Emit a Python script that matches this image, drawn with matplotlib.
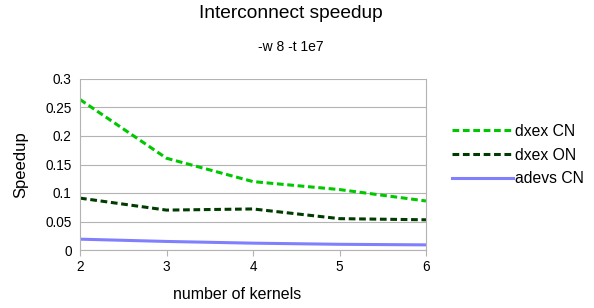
import numpy as np
import matplotlib.pyplot as plt

plt.rcParams['font.family'] = ['Liberation Sans', 'DejaVu Sans']

# data
kernels   = [2, 3, 4, 5, 6]
dxex_cn   = [0.264, 0.161, 0.120, 0.106, 0.086]
dxex_on   = [0.091, 0.070, 0.072, 0.055, 0.053]
adevs_cn  = [0.019, 0.015, 0.012, 0.010, 0.009]
y_ticks   = [0, 0.05, 0.1, 0.15, 0.2, 0.25, 0.3]
y_labels  = ["0", "0.05", "0.1", "0.15", "0.2", "0.25", "0.3"]

fig = plt.figure(figsize=(5.94, 3.08), dpi=100)
ax = fig.add_axes([80 / 594, 1 - 250 / 308, 346 / 594, 171 / 308])

ax.plot(kernels, dxex_cn, color="#00c800", lw=2.2, ls=(0, (2.2, 1.2)), label="dxex CN")
ax.plot(kernels, dxex_on, color="#003c00", lw=2.2, ls=(0, (2.2, 1.2)), label="dxex ON")
ax.plot(kernels, adevs_cn, color="#8080ff", lw=2.2, label="adevs CN")

ax.set_xlim(2, 6); ax.set_ylim(0, 0.3)
ax.set_xticks(kernels)
ax.set_yticks(y_ticks); ax.set_yticklabels(y_labels)
ax.grid(True, axis="y", color="#b3b3b3", lw=0.8)
ax.set_axisbelow(True)
ax.spines["top"].set_visible(False)
for s in ["left", "bottom", "right"]:
    ax.spines[s].set_color("#b3b3b3")
ax.tick_params(axis="both", colors="#b3b3b3", labelcolor="black", labelsize=9.8, length=4)
ax.tick_params(axis="y", length=0, pad=6)

ax.set_ylabel("Speedup", fontsize=12)
ax.yaxis.set_label_coords(-0.15, 0.5)
ax.set_xlabel("number of kernels", fontsize=11.5)
ax.xaxis.set_label_coords(0.454, -0.215)

fig.text(0.49, 1 - 14 / 308, "Interconnect speedup", ha="center", va="center", fontsize=13.8)
fig.text(0.49, 1 - 47 / 308, "-w 8 -t 1e7", ha="center", va="center", fontsize=10)

fig.legend(loc="center left", bbox_to_anchor=(438 / 594, 1 - 155 / 308), frameon=False,
           fontsize=11.3, handlelength=3.85, labelspacing=0.55, handletextpad=0.15)

fig.savefig("out.png", dpi=100)
